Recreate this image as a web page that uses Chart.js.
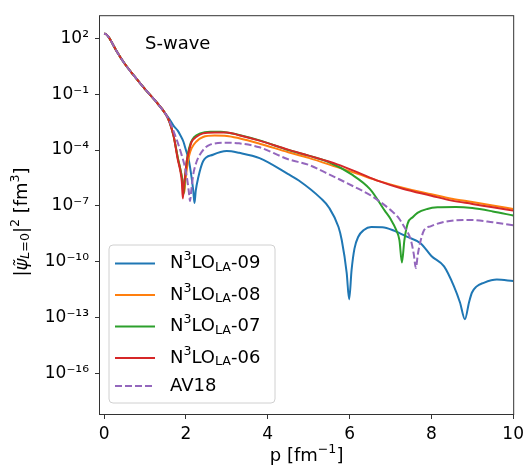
<!DOCTYPE html>
<html>
<head>
<meta charset="utf-8">
<script src="https://cdn.jsdelivr.net/npm/chart.js@4.4.0/dist/chart.umd.min.js"></script>
<style>
  html, body { margin: 0; padding: 0; background: #fff; }
</style>
</head>
<body>
<canvas id="chart" width="529" height="468"></canvas>
<script>
// momentum grid + |psi|^2 values
// common low-p part (all five curves sit on top of each other here)
const pHead = [0, 0.05, 0.1, 0.2, 0.3, 0.5, 0.75, 1.0, 1.25, 1.5];
const yHead = [1.8e2, 1.7e2, 1.3e2, 5.6e1, 2.2e1, 4.5, 0.89, 1.9e-1, 4.5e-2, 8.9e-3];

// N3LO_LA-09
const p09 = [1.6, 1.7, 1.8, 1.86, 1.94, 2.0, 2.06, 2.14, 2.18, 2.21, 2.24, 2.3, 2.42, 2.66, 3.0, 3.3, 3.8, 4.5, 4.76, 5.3, 5.5, 5.73, 5.81, 5.93, 5.99, 6.05, 6.12, 6.21, 6.35, 6.53, 6.8, 7.1, 7.4, 7.74, 8.0, 8.31, 8.55, 8.7, 8.82, 8.92, 8.99, 9.1, 9.28, 9.6, 10];
const y09 = [4.5e-3, 2.0e-3, 1.1e-3, 6.5e-4, 2.8e-4, 1.0e-4, 3.7e-5, 3.2e-6, 6.3e-7, 1.4e-7, 6.3e-7, 3.2e-6, 2.5e-5, 5.6e-5, 8.9e-5, 7.1e-5, 3.7e-5, 5.1e-6, 2.3e-6, 2.5e-7, 7.9e-8, 7.2e-9, 1.4e-9, 2.5e-11, 9.3e-13, 3.6e-11, 5.0e-10, 2.1e-9, 5.0e-9, 7.2e-9, 7.1e-9, 4.5e-9, 2.2e-9, 9.5e-10, 2.0e-10, 5.5e-11, 4.8e-12, 6.3e-13, 7.9e-14, 6.3e-13, 2.1e-12, 4.5e-12, 7.2e-12, 1.07e-11, 8.9e-12];

// N3LO_LA-08
const p08 = [1.6, 1.7, 1.8, 1.88, 1.93, 1.96, 1.99, 2.03, 2.08, 2.14, 2.25, 2.42, 2.7, 3.0, 3.3, 3.8, 4.5, 5.0, 5.7, 6.2, 6.7, 7.3, 8.0, 8.5, 9.0, 9.5, 10];
const y08 = [3.2e-3, 5.6e-4, 4.0e-5, 6.3e-6, 1.6e-6, 5.0e-7, 2.5e-6, 1.26e-5, 5.0e-5, 1.26e-4, 2.8e-4, 5.0e-4, 6.0e-4, 5.75e-4, 4.3e-4, 2.2e-4, 7.6e-5, 3.8e-5, 1.2e-5, 5.2e-6, 2.2e-6, 9.5e-7, 4.2e-7, 2.4e-7, 1.6e-7, 1.05e-7, 6.8e-8];

// N3LO_LA-07
const p07 = [1.6, 1.7, 1.8, 1.87, 1.91, 1.94, 1.97, 2.0, 2.05, 2.12, 2.2, 2.35, 2.6, 2.85, 3.1, 3.3, 3.8, 4.5, 5.0, 5.5, 6.05, 6.5, 6.86, 7.0, 7.14, 7.22, 7.28, 7.34, 7.42, 7.55, 7.66, 7.9, 8.15, 8.6, 9.0, 9.5, 10];
const y07 = [3.2e-3, 5.6e-4, 4.0e-5, 7.9e-6, 2.5e-6, 4.0e-7, 2.0e-6, 1.0e-5, 6.3e-5, 2.5e-4, 5.0e-4, 7.9e-4, 9.5e-4, 9.5e-4, 7.9e-4, 6.5e-4, 3.3e-4, 1.0e-4, 5.0e-5, 2.2e-5, 4.9e-6, 7.9e-7, 5.5e-8, 2.0e-8, 5.0e-9, 1.4e-9, 8.9e-11, 1.4e-9, 1.1e-8, 2.5e-8, 4.2e-8, 6.8e-8, 8.3e-8, 8.7e-8, 7.6e-8, 5.0e-8, 3.0e-8];

// N3LO_LA-06
const p06 = [1.6, 1.7, 1.8, 1.87, 1.9, 1.925, 1.95, 1.98, 2.02, 2.08, 2.14, 2.25, 2.42, 2.7, 3.0, 3.3, 3.8, 4.5, 5.0, 5.7, 6.2, 6.7, 7.3, 8.0, 8.5, 9.0, 9.5, 10];
const y06 = [3.2e-3, 5.6e-4, 3.2e-5, 6.3e-6, 2.0e-6, 2.5e-7, 1.3e-6, 4.0e-6, 2.5e-5, 1.0e-4, 2.8e-4, 5.0e-4, 7.9e-4, 8.9e-4, 8.9e-4, 6.3e-4, 3.2e-4, 1.05e-4, 5.0e-5, 1.7e-5, 6.3e-6, 2.2e-6, 8.3e-7, 3.5e-7, 1.9e-7, 1.26e-7, 8.3e-8, 5.5e-8];

// AV18
const pAV = [1.6, 1.7, 1.8, 1.9, 1.98, 2.04, 2.08, 2.1, 2.13, 2.18, 2.25, 2.34, 2.58, 3.0, 3.3, 3.8, 4.5, 5.0, 5.4, 5.73, 6.1, 6.53, 7.02, 7.18, 7.34, 7.5, 7.57, 7.62, 7.67, 7.74, 7.82, 7.98, 8.31, 8.6, 8.95, 9.5, 10];
const yAV = [3.5e-3, 1.0e-3, 2.5e-4, 5.0e-5, 1.1e-5, 2.0e-6, 4.0e-7, 1.8e-7, 6.3e-7, 4.9e-6, 2.0e-5, 5.6e-5, 1.9e-4, 2.5e-4, 2.3e-4, 1.4e-4, 3.2e-5, 1.6e-5, 6.3e-6, 2.8e-6, 1.1e-6, 3.5e-7, 5.5e-8, 2.5e-8, 7.2e-9, 1.4e-9, 2.5e-10, 4.5e-11, 2.5e-10, 1.4e-9, 4.8e-9, 7.9e-9, 1.35e-8, 1.66e-8, 1.74e-8, 1.3e-8, 8.9e-9];

const xTicks = [0, 2, 4, 6, 8, 10];
const yTickVals = [1e2, 1e-1, 1e-4, 1e-7, 1e-10, 1e-13, 1e-16];
const yTickLabels = ['10²', '10⁻¹', '10⁻⁴', '10⁻⁷', '10⁻¹⁰', '10⁻¹³', '10⁻¹⁶'];

const FONT = '"DejaVu Sans", sans-serif';
const AXIS = '#333';

function pts(p, y) {
  const xs = pHead.concat(p), ys = yHead.concat(y);
  return xs.map((x, i) => ({ x: x, y: ys[i] }));
}

function line(label, p, y, color, order, dash) {
  return {
    label: label,
    data: pts(p, y),
    borderColor: color,
    backgroundColor: color,
    borderWidth: 2,
    borderDash: dash || [],
    pointRadius: 0,
    cubicInterpolationMode: 'monotone',
    fill: false,
    order: order
  };
}

// text with super/subscripts: parts = [[text, kind]], kind n | i | sup | sub | isub
function rich(ctx, parts, x, y, base, draw) {
  let cx = x;
  for (const [t, k] of parts) {
    const small = k === 'sup' || k === 'sub' || k === 'isub';
    const size = small ? base * 0.7 : base;
    const italic = k === 'i' || k === 'isub';
    ctx.font = (italic ? 'italic ' : '') + size + 'px ' + FONT;
    let dy = 0;
    if (k === 'sup') dy = -base * 0.36;
    if (k === 'sub' || k === 'isub') dy = base * 0.22;
    if (draw) ctx.fillText(t, cx, y + dy);
    cx += ctx.measureText(t).width;
  }
  return cx - x;
}

const legendItems = [
  { color: '#1f77b4', dash: [], parts: [['N', 'n'], ['3', 'sup'], ['LO', 'n'], ['LA', 'sub'], ['-09', 'n']] },
  { color: '#ff7f0e', dash: [], parts: [['N', 'n'], ['3', 'sup'], ['LO', 'n'], ['LA', 'sub'], ['-08', 'n']] },
  { color: '#2ca02c', dash: [], parts: [['N', 'n'], ['3', 'sup'], ['LO', 'n'], ['LA', 'sub'], ['-07', 'n']] },
  { color: '#d62728', dash: [], parts: [['N', 'n'], ['3', 'sup'], ['LO', 'n'], ['LA', 'sub'], ['-06', 'n']] },
  { color: '#9467bd', dash: [7, 3], parts: [['AV18', 'n']] }
];
const legendRowsY = [263.5, 295, 326.5, 358, 386];

const overlay = {
  id: 'overlay',
  afterDatasetsDraw(chart) {
    const ctx = chart.ctx, a = chart.chartArea;
    ctx.save();
    // frame
    ctx.strokeStyle = AXIS;
    ctx.lineWidth = 1;
    ctx.strokeRect(a.left - 0.5, a.top - 0.5, a.right - a.left + 1, a.bottom - a.top + 1);

    ctx.fillStyle = '#000';
    ctx.textBaseline = 'middle';
    ctx.font = '18px ' + FONT;
    ctx.fillText('S-wave', 145, 44);

    // legend
    const bx = 109, by = 245, bw = 166, bh = 158;
    ctx.beginPath();
    ctx.roundRect(bx, by, bw, bh, 4);
    ctx.fillStyle = 'rgba(255,255,255,0.8)';
    ctx.fill();
    ctx.strokeStyle = '#d0d0d0';
    ctx.lineWidth = 1;
    ctx.stroke();
    legendItems.forEach((it, i) => {
      const ly = legendRowsY[i];
      ctx.beginPath();
      ctx.setLineDash(it.dash);
      ctx.strokeStyle = it.color;
      ctx.lineWidth = 2;
      ctx.moveTo(115, ly);
      ctx.lineTo(155, ly);
      ctx.stroke();
      ctx.setLineDash([]);
      ctx.fillStyle = '#000';
      rich(ctx, it.parts, 170, ly, 18, true);
    });

    // x title
    const xParts = [['p [fm', 'n'], ['−1', 'sup'], [']', 'n']];
    const xw = rich(ctx, xParts, 0, 0, 18, false);
    rich(ctx, xParts, (a.left + a.right) / 2 - xw / 2, 456, 18, true);

    // y title
    const yParts = [['|', 'n'], ['ψ̃', 'i'], ['L', 'isub'], ['=0', 'sub'], ['|', 'n'], ['2', 'sup'], [' [fm', 'n'], ['3', 'sup'], [']', 'n']];
    const yw = rich(ctx, yParts, 0, 0, 18, false);
    ctx.translate(22, 222);
    ctx.rotate(-Math.PI / 2);
    rich(ctx, yParts, -yw / 2, 0, 18, true);
    ctx.restore();
  }
};

new Chart(document.getElementById('chart'), {
  type: 'line',
  data: {
    datasets: [
      line('N3LO_LA-09', p09, y09, '#1f77b4', 5),
      line('N3LO_LA-08', p08, y08, '#ff7f0e', 4),
      line('N3LO_LA-07', p07, y07, '#2ca02c', 3),
      line('N3LO_LA-06', p06, y06, '#d62728', 2),
      line('AV18', pAV, yAV, '#9467bd', 1, [7, 3])
    ]
  },
  options: {
    responsive: false,
    animation: false,
    layout: { padding: { top: 10, right: 12, left: 0, bottom: 0 } },
    plugins: { legend: { display: false }, tooltip: { enabled: false } },
    scales: {
      x: {
        type: 'linear',
        min: -0.1,
        max: 10,
        afterBuildTicks: s => { s.ticks = xTicks.map(v => ({ value: v })); },
        afterFit: s => { s.height = 54; },
        grid: { drawOnChartArea: false, drawTicks: true, tickLength: 5, tickColor: AXIS },
        border: { display: false },
        ticks: { color: '#000', padding: 5, maxRotation: 0, font: { family: FONT, size: 17 } }
      },
      y: {
        type: 'logarithmic',
        min: Math.pow(10, -18.2),
        max: Math.pow(10, 3.2),
        afterBuildTicks: s => { s.ticks = yTickVals.map(v => ({ value: v })); },
        afterFit: s => { s.width = 100; },
        grid: { drawOnChartArea: false, drawTicks: true, tickLength: 5, tickColor: AXIS },
        border: { display: false },
        ticks: {
          color: '#000',
          padding: 6,
          font: { family: FONT, size: 17 },
          callback: (v, i) => yTickLabels[i]
        }
      }
    }
  },
  plugins: [overlay]
});
</script>
</body>
</html>
